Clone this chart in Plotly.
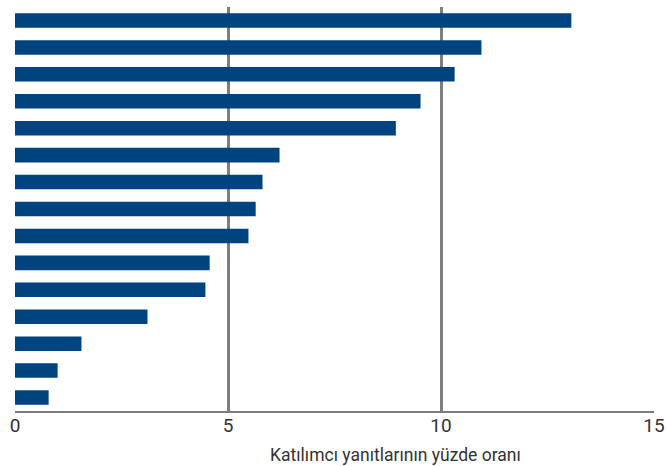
import plotly.graph_objects as go

categories = [f"Madde {i}" for i in range(1, 16)]
values = [13.06, 10.95, 10.32, 9.52, 8.94, 6.21, 5.81, 5.65, 5.48, 4.57, 4.47, 3.11, 1.56, 1.0, 0.79]
x_ticks = [0, 5, 10, 15]
x_title = "Katılımcı yanıtlarının yüzde oranı"

FONT = "Roboto, Liberation Sans, sans-serif"

fig = go.Figure(go.Bar(
    y=categories,
    x=values,
    orientation="h",
    marker=dict(color="#00447F", line=dict(width=0)),
    width=0.54,
    hoverinfo="x",
))

fig.update_layout(
    width=666, height=466,
    margin=dict(l=15, r=12, t=7, b=55),
    paper_bgcolor="white", plot_bgcolor="white",
    showlegend=False,
    font=dict(family=FONT, color="#333333", size=17),
    xaxis=dict(
        range=[0, 15], tickvals=x_ticks, ticktext=[str(t) for t in x_ticks],
        showgrid=True, gridcolor="#7d7d7d", gridwidth=2.5,
        zeroline=False, showline=True, linecolor="#7d7d7d", linewidth=2,
        ticks="", ticklabelstandoff=-4, automargin=False,
        tickfont=dict(family=FONT, size=19, color="#333333"),
        fixedrange=True,
    ),
    yaxis=dict(
        autorange="reversed", showticklabels=False, showgrid=False,
        zeroline=False, showline=False, ticks="", automargin=False,
        fixedrange=True,
    ),
    annotations=[dict(
        text=x_title, xref="paper", yref="paper", x=0.595, y=0,
        yshift=-32, xanchor="center", yanchor="top", showarrow=False,
        font=dict(family=FONT, size=17.5, color="#333333"),
    )],
)

fig.write_html(
    "out.html",
    config={"displayModeBar": False},
    post_script="document.body.style.margin='0';document.body.style.overflow='hidden';",
)
